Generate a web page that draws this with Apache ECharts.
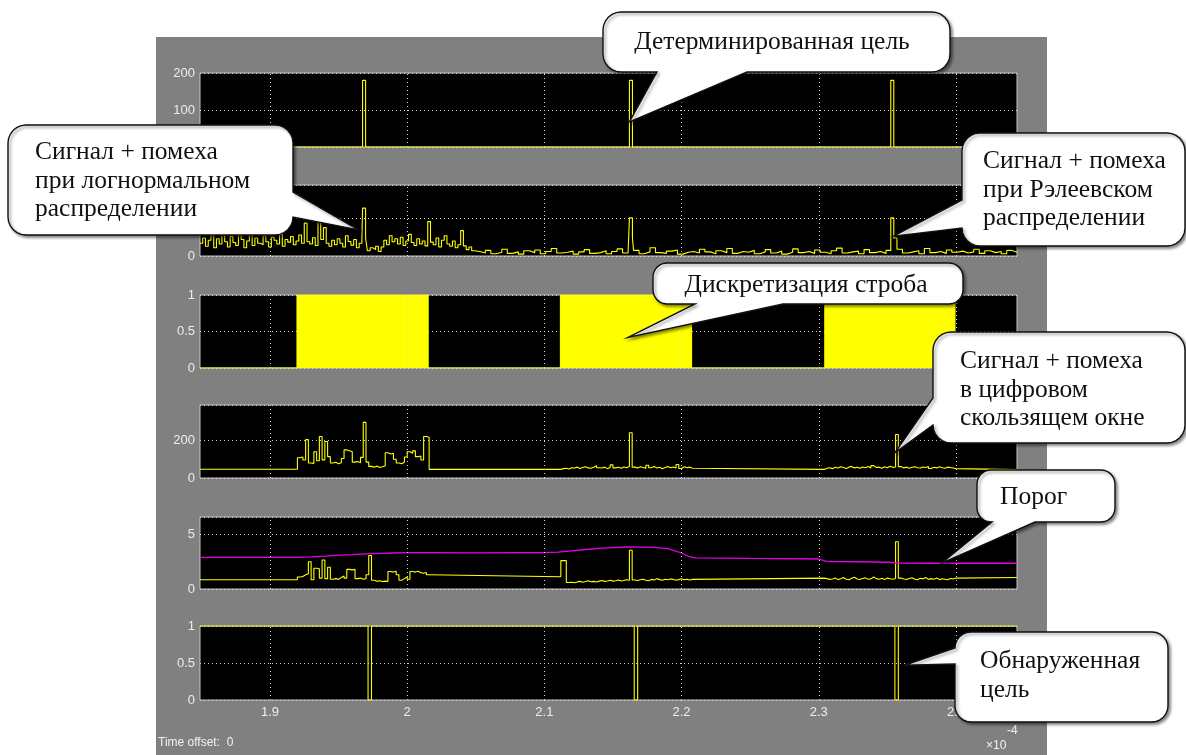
<!DOCTYPE html>
<html>
<head>
<meta charset="utf-8">
<script src="https://cdn.jsdelivr.net/npm/echarts@6/dist/echarts.min.js"></script>
<style>
  html, body { margin: 0; padding: 0; background: #fff; }
  #chart { width: 1186px; height: 755px; }
</style>
</head>
<body>
<div id="chart"></div>
<script>
// ---- time axis (units of 1e-4 s) ----
const timeRange = [1.849, 2.4445];
const timeTicks = [1.9, 2.0, 2.1, 2.2, 2.3, 2.4];

// ---- y ranges and labelled ticks of the six scope panels ----
const yMax = [200, 190, 1, 390, 6.6, 1];
const yStep = [100, 100, 0.5, 200, 5, 0.5];
const yTickLabels = [[0, 100, 200], [0, 100], [0, 0.5, 1], [0, 200], [0, 5], [0, 0.5, 1]];

// ---- panel 1: deterministic target ----
const targetTimes = [1.9675, 2.162, 2.3525];
const targetAmp = [180, 180, 180];
const pulseWidth = 0.0022;

// ---- panel 2: signal + noise (lognormal, then Rayleigh) ----
const lognStart = 1.849, lognStep = 0.002;
const lognNoise = [
  34, 48, 26, 42, 55, 22, 46, 32, 58, 38,
  24, 52, 36, 28, 56, 44, 22, 40, 60, 28,
  48, 34, 30, 54, 38, 24, 50, 42, 32, 58,
  26, 44, 37, 52, 30, 40, 56, 34, 88, 38,
  32, 49, 28, 90, 44, 76, 34, 26, 42, 30,
  46, 34, 24, 54, 39, 29, 44, 22, 34, 48,
  20, 14, 22, 17, 26, 12, 24, 42, 30, 54,
  38, 46, 32, 50, 28, 40, 58, 36, 28, 46,
  32, 40, 27, 92, 37, 30, 48, 24, 42, 54,
  32, 26, 40, 22, 30, 68, 27, 17, 24, 14
];
const rayStart = 2.049, rayStep = 0.004;
const rayNoise = [
  12, 8, 15, 6, 10, 18, 7, 11, 5, 14,
  9, 16, 6, 12, 20, 8, 10, 13, 5, 11,
  17, 7, 9, 14, 6, 12, 19, 8, 10, 15,
  6, 11, 22, 9, 7, 13, 16, 5, 10, 12,
  8, 18, 11, 6, 14, 9, 20, 7, 12, 10,
  15, 6, 11, 17, 8, 13, 5, 10, 19, 9,
  12, 7, 16, 10, 6, 14, 21, 8, 11, 13,
  6, 17, 9, 12, 7, 15, 10, 18, 8, 11,
  14, 6, 20, 9, 12, 7, 16, 10, 13, 8,
  11, 18, 7, 14, 9, 12, 6, 15, 10
];
const echoAmp = [128, 102, 102];

// ---- panel 3: range strobe ----
const gateOn = [1.9197, 2.1117, 2.3044];
const gateOff = [2.0153, 2.2073, 2.3993];

// ---- panel 4: signal + noise in the sliding window ----
const windowStarts = [1.920, 2.112, 2.304];
const windowStep = 0.002;
const win4Levels = [47, 46, 46, 45];
const win4Gate1 = [
  108, 112, 96, 205, 80, 78, 140, 92, 222, 97,
  195, 114, 80, 84, 76, 82, 104, 150, 146, 140,
  85, 88, 82, 110, 297, 85, 62, 58, 64, 56,
  60, 66, 135, 128, 132, 100, 80, 76, 84, 112,
  140, 132, 145, 114, 118, 96, 222, 218
];
const win4Gate2 = [
  50, 52, 48, 55, 53, 58, 51, 56, 60, 54,
  52, 57, 66, 55, 53, 58, 50, 56, 70, 54,
  57, 52, 59, 55, 63, 242, 58, 54, 60, 56,
  52, 68, 55, 61, 53, 57, 50, 56, 62, 55,
  59, 53, 72, 51, 60, 55, 58, 52
];
const win4Gate3 = [
  52, 55, 50, 57, 53, 60, 56, 51, 58, 62,
  54, 57, 52, 59, 55, 61, 53, 66, 56, 58,
  52, 60, 55, 63, 57, 59, 232, 61, 54, 58,
  52, 57, 60, 55, 53, 59, 56, 62, 51, 57,
  54, 60, 55, 52, 58, 56, 53, 50
];

// ---- panel 5: normalised signal and adaptive threshold ----
const norm5Levels = [0.85, 1.12, 1.0, 1.05];
const norm5Gate1 = [
  1.1, 1.15, 1.3, 1.4, 2.5, 0.85, 1.9, 1.85, 1.0, 2.66,
  0.95, 2.0, 0.9, 0.95, 0.88, 1.05, 1.2, 1.0, 1.8, 1.75,
  1.8, 0.95, 1.0, 0.9, 0.95, 1.3, 3.07, 0.8, 0.7, 0.75,
  0.68, 0.72, 0.7, 1.6, 1.55, 1.62, 1.3, 0.8, 0.95, 1.1,
  0.9, 1.6, 1.55, 1.62, 1.5, 1.45, 1.52, 1.3
];
const norm5Gate2 = [
  2.6, 2.6, 0.6, 0.62, 0.58, 0.65, 0.7, 0.62, 0.68, 0.75,
  0.66, 0.7, 0.64, 0.72, 0.78, 0.7, 0.74, 0.8, 0.72, 0.76,
  0.82, 0.74, 0.78, 0.85, 0.8, 3.55, 0.82, 0.78, 0.85, 0.9,
  0.8, 0.76, 0.88, 0.82, 0.95, 0.86, 0.8, 0.9, 0.84, 0.92,
  0.88, 0.8, 0.86, 0.94, 0.85, 0.9, 0.82, 0.88
];
const norm5Gate3 = [
  0.95, 0.88, 0.92, 1.0, 0.86, 0.94, 1.05, 0.9, 0.84, 0.98,
  1.08, 0.92, 0.87, 0.96, 1.02, 0.89, 0.93, 1.1, 0.95, 0.9,
  0.98, 0.86, 1.0, 0.94, 0.9, 0.97, 4.33, 1.0, 0.92, 0.88,
  0.96, 1.04, 0.9, 0.85, 0.98, 0.93, 1.06, 0.88, 0.95, 0.9,
  1.0, 0.86, 0.94, 0.9, 0.85, 0.96, 0.92, 1.0
];
const thresholdTimes = [
  1.849, 1.92, 1.93, 1.94, 1.95, 1.96, 1.97, 1.98, 1.99, 2.0,
  2.02, 2.05, 2.08, 2.10, 2.11, 2.12, 2.13, 2.14, 2.15, 2.16,
  2.17, 2.18, 2.19, 2.20, 2.205, 2.21, 2.25, 2.30, 2.305, 2.31,
  2.33, 2.35, 2.36, 2.38, 2.40, 2.4445
];
const thresholdValues = [
  2.9, 2.9, 2.95, 3.02, 3.1, 3.15, 3.22, 3.27, 3.3, 3.33,
  3.33, 3.32, 3.33, 3.33, 3.38, 3.5, 3.62, 3.72, 3.8, 3.85,
  3.84, 3.82, 3.7, 3.3, 3.0, 2.85, 2.8, 2.75, 2.55, 2.52,
  2.5, 2.45, 2.38, 2.36, 2.36, 2.36
];

// ---- panel 6: detected target ----
const detectTimes = [1.9715, 2.1655, 2.3555];
const detectWidth = 0.0025;

// ---- annotation bubbles ----
const callouts = [
  { box: [603, 12, 347, 60], r: 18, side: 'bottom', base: [747, 657], grid: 0, at: [2.162, 68],
    text: 'Детерминированная цель', tx: 772, ty: 42, align: 'center' },
  { box: [8, 125, 285, 110], r: 18, side: 'right', base: [192, 217], grid: 1, at: [1.9645, 70],
    text: 'Сигнал + помеха\nпри логнормальном\nраспределении', tx: 35, ty: 181, align: 'left' },
  { box: [962, 133, 223, 113], r: 18, side: 'left', base: [228, 200], grid: 1, at: [2.3545, 53],
    text: 'Сигнал + помеха\nпри Рэлеевском\nраспределении', tx: 983, ty: 190, align: 'left' },
  { box: [653, 263, 310, 41], r: 14, side: 'bottom', base: [783, 695], grid: 2, at: [2.161, 0.42],
    text: 'Дискретизация строба', tx: 806, ty: 285, align: 'center' },
  { box: [933, 332, 252, 111], r: 18, side: 'left', base: [425, 398], grid: 3, at: [2.3555, 135],
    text: 'Сигнал + помеха\nв цифровом\nскользящем окне', tx: 960, ty: 390, align: 'left' },
  { box: [977, 470, 138, 52], r: 14, side: 'bottom', base: [1035, 992], grid: 4, at: [2.39, 2.4],
    text: 'Порог', tx: 1000, ty: 497, align: 'left' },
  { box: [955, 632, 213, 90], r: 16, side: 'left', base: [664, 648], grid: 5, at: [2.3625, 0.47],
    text: 'Обнаруженная\nцель', tx: 980, ty: 676, align: 'left' }
];

// ---------- helpers that turn the arrays above into series data ----------
function pulseTrain(times, amps, width, base) {
  const pts = [[timeRange[0], base]];
  times.forEach((t, i) => {
    pts.push([t, base], [t, amps[i]], [t + width, amps[i]], [t + width, base]);
  });
  pts.push([timeRange[1], base]);
  return pts;
}

function sampled(start, step, values) {
  return values.map((v, i) => [+(start + i * step).toFixed(5), v]);
}

// adds target echoes on top of a held (step) noise record
function withEchoes(points, times, amps, width) {
  let pts = points.slice();
  times.forEach((t, i) => {
    let prev = pts[0][1];
    pts.forEach(p => { if (p[0] <= t) prev = p[1]; });
    pts = pts.filter(p => !(p[0] > t && p[0] < t + width));
    pts.push([t, amps[i]], [t + width, prev]);
  });
  return pts.sort((a, b) => a[0] - b[0]);
}

function gateSignal() {
  const pts = [[timeRange[0], 0]];
  gateOn.forEach((on, i) => {
    pts.push([on, 0], [on, 1], [gateOff[i], 1], [gateOff[i], 0]);
  });
  pts.push([timeRange[1], 0]);
  return pts;
}

function windowed(levels, gates) {
  const pts = [[timeRange[0], levels[0]]];
  gates.forEach((vals, g) => {
    pts.push(...sampled(windowStarts[g], windowStep, vals));
    pts.push([+(windowStarts[g] + vals.length * windowStep).toFixed(5), levels[g + 1]]);
  });
  pts.push([timeRange[1], levels[levels.length - 1]]);
  return pts;
}

// ---------- chart ----------
const YELLOW = '#ffff00';
const GRID_BOXES = [[73, 74], [185, 71], [295, 73], [405, 73], [517, 72], [626, 74]];
const LABEL_FONT = { color: '#ececec', fontSize: 13, fontFamily: 'Liberation Sans' };

const grid = GRID_BOXES.map(([top, height]) => ({
  left: 200, width: 817, top, height, show: true,
  backgroundColor: '#000', borderColor: '#c4c4c4', borderWidth: 1
}));

const xAxis = GRID_BOXES.map((_, i) => ({
  type: 'value', gridIndex: i, min: timeRange[0], max: timeRange[1],
  axisLine: { show: false }, axisTick: { show: false }, splitLine: { show: false },
  axisLabel: i === 5
    ? Object.assign({ show: true, customValues: timeTicks, margin: 6,
        formatter: v => String(+(+v).toFixed(1)) }, LABEL_FONT)
    : { show: false }
}));

const yAxis = GRID_BOXES.map((_, i) => ({
  type: 'value', gridIndex: i, min: 0, max: yMax[i], interval: yStep[i],
  axisLine: { show: false }, axisTick: { show: false },
  splitLine: { show: true, lineStyle: { color: '#d4d4d4', type: [1, 3], width: 1 } },
  axisLabel: Object.assign({ margin: 5,
    formatter: v => yTickLabels[i].some(t => Math.abs(t - v) < 1e-9) ? String(v) : '' }, LABEL_FONT)
}));

function trace(i, data, extra) {
  return Object.assign({
    type: 'line', xAxisIndex: i, yAxisIndex: i, data, showSymbol: false, symbol: 'none',
    silent: true, z: 3, lineStyle: { color: YELLOW, width: 1.1 }
  }, extra || {});
}

// vertical dotted grid lines at the time ticks, kept beneath the traces
const gridLines = GRID_BOXES.map((_, i) => ({
  type: 'line', xAxisIndex: i, yAxisIndex: i, data: [[timeRange[0], 0]], symbol: 'none',
  silent: true, z: 1, lineStyle: { width: 0, opacity: 0 },
  markLine: {
    silent: true, symbol: ['none', 'none'], label: { show: false },
    lineStyle: { color: '#d4d4d4', type: [1, 3], width: 1 },
    data: timeTicks.map(t => ({ xAxis: t }))
  }
}));

const noise2 = sampled(lognStart, lognStep, lognNoise)
  .concat(sampled(rayStart, rayStep, rayNoise), [[timeRange[1], rayNoise[rayNoise.length - 1]]]);

const series = gridLines.concat([
  trace(0, pulseTrain(targetTimes, targetAmp, pulseWidth, 0)),
  trace(1, withEchoes(noise2, targetTimes, echoAmp, pulseWidth), { step: 'end' }),
  trace(2, gateSignal(), { areaStyle: { color: YELLOW, opacity: 1 } }),
  trace(3, windowed(win4Levels, [win4Gate1, win4Gate2, win4Gate3]), { step: 'end' }),
  trace(4, windowed(norm5Levels, [norm5Gate1, norm5Gate2, norm5Gate3]), { step: 'end' }),
  trace(4, thresholdTimes.map((t, i) => [t, thresholdValues[i]]),
        { lineStyle: { color: '#e600e6', width: 1.3 }, z: 4 }),
  trace(5, pulseTrain(detectTimes, [0, 0, 0], detectWidth, 1))
]);

const chart = echarts.init(document.getElementById('chart'), null, { renderer: 'canvas' });
chart.setOption({
  animation: false,
  backgroundColor: '#fff',
  grid, xAxis, yAxis, series
});

// speech bubble outline: rounded box with a pointed tail on one side
function bubblePoints(c, tip) {
  const [x, y, w, h] = c.box, r = c.r, R = x + w, B = y + h;
  const pts = [];
  const arc = (cx, cy, a0) => {
    for (let k = 0; k <= 6; k++) {
      const a = (a0 + k * 15) * Math.PI / 180;
      pts.push([cx + r * Math.cos(a), cy + r * Math.sin(a)]);
    }
  };
  pts.push([x + r, y]);
  if (c.side === 'top') pts.push([c.base[0], y], tip, [c.base[1], y]);
  arc(R - r, y + r, -90);
  if (c.side === 'right') pts.push([R, c.base[0]], tip, [R, c.base[1]]);
  arc(R - r, B - r, 0);
  if (c.side === 'bottom') pts.push([c.base[0], B], tip, [c.base[1], B]);
  arc(x + r, B - r, 90);
  if (c.side === 'left') pts.push([x, c.base[0]], tip, [x, c.base[1]]);
  arc(x + r, y + r, 180);
  return pts;
}

const TEXT_FONT = '25.5px "Liberation Serif"';
const SMALL_FONT = '12px "Liberation Sans"';
const elements = [
  { type: 'rect', z: -10, silent: true,
    shape: { x: 156, y: 37, width: 891, height: 718 }, style: { fill: '#808080' } },
  { type: 'text', z: 50, silent: true, x: 158, y: 743,
    style: { text: 'Time offset:  0', font: SMALL_FONT, fill: '#f2f2f2',
             align: 'left', verticalAlign: 'middle', textAlign: 'left', textVerticalAlign: 'middle' } },
  { type: 'text', z: 50, silent: true, x: 986, y: 746,
    style: { text: '×10', font: SMALL_FONT, fill: '#f2f2f2',
             align: 'left', verticalAlign: 'middle', textAlign: 'left', textVerticalAlign: 'middle' } },
  { type: 'text', z: 50, silent: true, x: 1007, y: 731,
    style: { text: '-4', font: SMALL_FONT, fill: '#f2f2f2',
             align: 'left', verticalAlign: 'middle', textAlign: 'left', textVerticalAlign: 'middle' } }
];

callouts.forEach((c, i) => {
  const tip = chart.convertToPixel({ gridIndex: c.grid }, c.at);
  elements.push({
    type: 'polygon', z: 100 + i * 2, silent: true,
    shape: { points: bubblePoints(c, tip) },
    style: { fill: '#ffffff', stroke: '#111', lineWidth: 1.4,
             shadowBlur: 3, shadowOffsetX: 2, shadowOffsetY: 2, shadowColor: 'rgba(0,0,0,0.45)' }
  });
  elements.push({
    type: 'text', z: 101 + i * 2, silent: true, x: c.tx, y: c.ty,
    style: { text: c.text, font: TEXT_FONT, fill: '#111', lineHeight: 28.5,
             align: c.align, verticalAlign: 'middle', textAlign: c.align, textVerticalAlign: 'middle' }
  });
});

chart.setOption({ graphic: { elements } });
</script>
</body>
</html>
